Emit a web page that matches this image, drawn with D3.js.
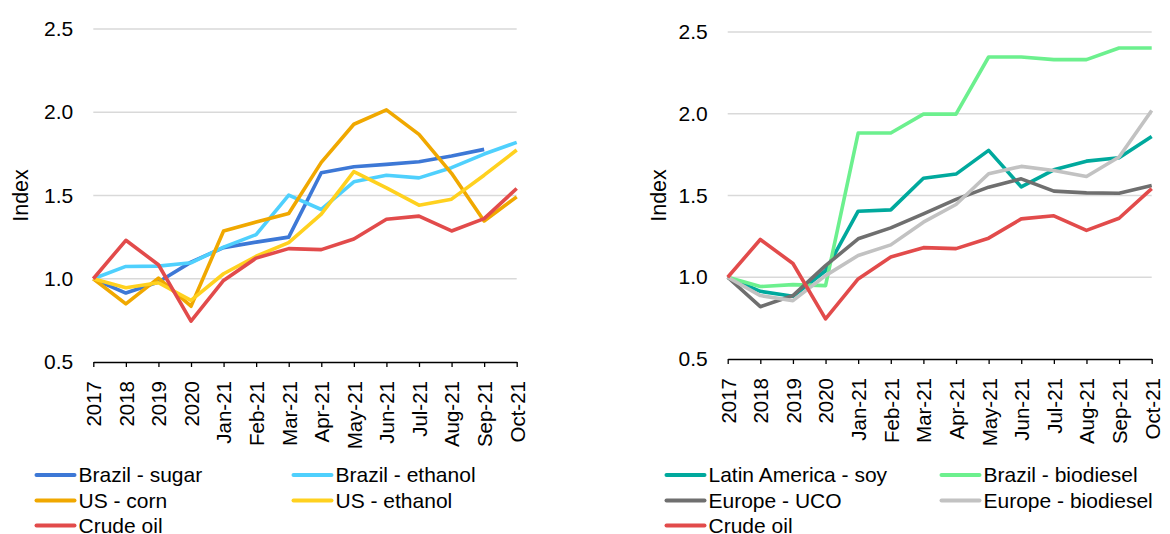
<!DOCTYPE html>
<html><head><meta charset="utf-8">
<script src="https://cdn.jsdelivr.net/npm/d3@7"></script>
<style>
body{margin:0;background:#fff;}
svg{display:block;font-family:"Liberation Sans",Arial,sans-serif;}
</style></head>
<body>
<svg id="chart" width="1170" height="534"></svg>
<script>
const categories = ["2017","2018","2019","2020","Jan-21","Feb-21","Mar-21","Apr-21","May-21","Jun-21","Jul-21","Aug-21","Sep-21","Oct-21"];
const yTicks = [0.5, 1.0, 1.5, 2.0, 2.5];

const brazilSugar    = [1.0,0.914,0.98,1.10,1.187,1.22,1.25,1.637,1.673,1.687,1.703,1.737,1.777,null];
const brazilEthanol  = [1.0,1.074,1.076,1.096,1.19,1.265,1.502,1.416,1.582,1.622,1.606,1.667,1.749,1.819];
const usCorn         = [1.0,0.849,1.004,0.835,1.287,1.341,1.392,1.699,1.928,2.014,1.867,1.633,1.347,1.492];
const usEthanol      = [1.0,0.946,0.976,0.87,1.03,1.135,1.217,1.388,1.643,1.546,1.442,1.478,1.622,1.773];
const crudeOil       = [1.0,1.231,1.084,0.745,0.99,1.124,1.181,1.175,1.239,1.357,1.376,1.287,1.361,1.542];

const latamSoy       = [1.0,0.914,0.884,1.04,1.404,1.412,1.606,1.631,1.776,1.553,1.657,1.71,1.731,1.861];
const brazilBiodiesel= [1.0,0.943,0.955,0.949,1.882,1.882,1.998,1.998,2.347,2.347,2.331,2.331,2.402,2.402];
const europeUCO      = [1.0,0.82,0.888,1.071,1.235,1.302,1.388,1.476,1.551,1.602,1.527,1.516,1.514,1.561];
const europeBiodiesel= [1.0,0.888,0.857,1.01,1.133,1.198,1.337,1.445,1.633,1.678,1.653,1.616,1.735,2.02];

const leftSeries = [
  {name:"Brazil - sugar", values:brazilSugar, color:"#3d78d6"},
  {name:"Brazil - ethanol", values:brazilEthanol, color:"#4fd0fd"},
  {name:"US - corn", values:usCorn, color:"#f0a800"},
  {name:"US - ethanol", values:usEthanol, color:"#ffd11f"},
  {name:"Crude oil", values:crudeOil, color:"#e24b4b"}
];
const rightSeries = [
  {name:"Latin America - soy", values:latamSoy, color:"#00a99d"},
  {name:"Brazil - biodiesel", values:brazilBiodiesel, color:"#6cf08e"},
  {name:"Europe - UCO", values:europeUCO, color:"#6f6f6f"},
  {name:"Europe - biodiesel", values:europeBiodiesel, color:"#c2c2c2"},
  {name:"Crude oil", values:crudeOil, color:"#e24b4b"}
];

const svg = d3.select("#chart");

function panel(cfg){
  const g = svg.append("g");
  const x = d3.scalePoint().domain(categories).range([cfg.x0, cfg.x1]).padding(0);
  const y = d3.scaleLinear().domain([0.5, 2.5]).range([cfg.yBottom, cfg.yTop]);

  g.append("g").selectAll("line").data(yTicks.filter(t=>t>0.5)).join("line")
    .attr("x1", cfg.x0).attr("x2", cfg.x1)
    .attr("y1", d=>y(d)).attr("y2", d=>y(d))
    .attr("stroke", "#d9d9d9").attr("stroke-width", 1.3);

  const ya = g.append("g").attr("transform", `translate(${cfg.x0},0)`)
    .call(d3.axisLeft(y).tickValues(yTicks).tickFormat(d3.format(".1f")).tickSize(0).tickPadding(20));
  ya.select(".domain").remove();
  ya.selectAll("text").attr("font-size", 21).attr("fill", "#000").attr("font-family", "Liberation Sans, Arial, sans-serif");

  const xa = g.append("g").attr("transform", `translate(0,${cfg.yBottom})`)
    .call(d3.axisBottom(x).tickSize(5).tickSizeOuter(0));
  xa.select(".domain").attr("stroke", "#000").attr("stroke-width", 1.3);
  xa.selectAll(".tick line").attr("stroke", "#000").attr("stroke-width", 1.3);
  xa.selectAll("text")
    .attr("font-size", 20.5).attr("fill", "#000").attr("font-family", "Liberation Sans, Arial, sans-serif")
    .attr("transform", "rotate(-90)")
    .attr("text-anchor", "end")
    .attr("x", -19).attr("y", 0).attr("dy", "0.36em");

  g.append("text")
    .attr("transform", `translate(${cfg.titleX},${(cfg.yTop+cfg.yBottom)/2}) rotate(-90)`)
    .attr("text-anchor", "middle").attr("dy", "0.36em")
    .attr("font-size", 21.5).attr("fill", "#000").text("Index");

  const line = d3.line()
    .defined(d=>d.v!=null)
    .x(d=>x(d.c)).y(d=>y(d.v));
  g.append("g").selectAll("path").data(cfg.series).join("path")
    .attr("d", s=>line(s.values.map((v,i)=>({c:categories[i], v}))))
    .attr("fill", "none").attr("stroke", s=>s.color)
    .attr("stroke-width", 3.6).attr("stroke-linejoin", "round").attr("stroke-linecap", "butt");

  const lg = g.append("g");
  cfg.series.forEach((s,i)=>{
    const col = i % 2, row = Math.floor(i/2);
    const lx = cfg.legX[col], ly = cfg.legY[row];
    lg.append("line").attr("x1", lx).attr("x2", lx+38).attr("y1", ly).attr("y2", ly)
      .attr("stroke", s.color).attr("stroke-width", 4).attr("stroke-linecap", "round");
    lg.append("text").attr("x", lx+42).attr("y", ly).attr("dy", "0.35em")
      .attr("font-size", 21).attr("fill", "#000").text(s.name);
  });
}

panel({x0:93.3, x1:516.7, yTop:29, yBottom:362, titleX:20, series:leftSeries,
       legX:[36.5, 293.5], legY:[475, 500.5, 525.5]});
panel({x0:727.7, x1:1151.7, yTop:32, yBottom:359, titleX:658, series:rightSeries,
       legX:[666.5, 941.5], legY:[475, 500.5, 525.5]});
</script>
</body></html>
